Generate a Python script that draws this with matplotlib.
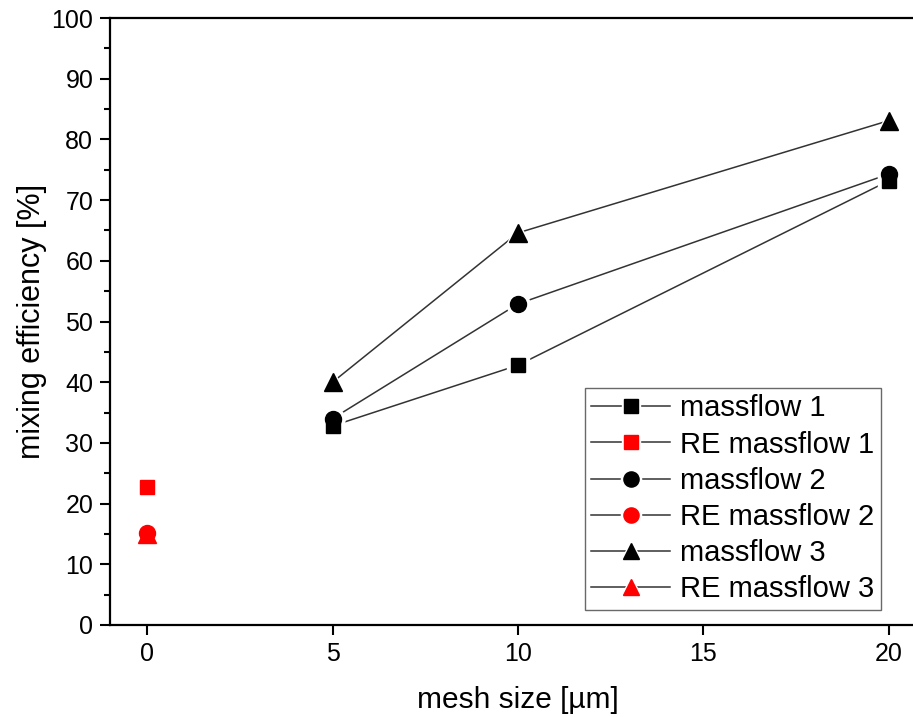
import matplotlib
matplotlib.use("Agg")
import matplotlib.pyplot as plt
from matplotlib.lines import Line2D
from matplotlib.legend_handler import HandlerTuple
from matplotlib.ticker import MultipleLocator

plt.rcParams['font.family'] = ['Liberation Sans', 'DejaVu Sans']

mesh = [5, 10, 20]
mf1 = [32.8, 42.8, 73.2]
mf2 = [34.0, 52.9, 74.3]
mf3 = [40.0, 64.6, 83.1]
re_x = [0]
re_mf1 = [22.7]
re_mf2 = [15.2]
re_mf3 = [15.0]

W, H = 913, 717
fig = plt.figure(figsize=(W/100, H/100), dpi=100)
ax = fig.add_axes([110/W, 1-625/H, 816/W, 607/H])

lc = '#333333'
series = [
    (mesh, mf1, 's', 'black', 'massflow 1', 10.5),
    (re_x, re_mf1, 's', 'red', 'RE massflow 1', 10.5),
    (mesh, mf2, 'o', 'black', 'massflow 2', 11.5),
    (re_x, re_mf2, 'o', 'red', 'RE massflow 2', 11.5),
    (mesh, mf3, '^', 'black', 'massflow 3', 12.5),
    (re_x, re_mf3, '^', 'red', 'RE massflow 3', 12.5),
]
handles = []
labels = []
for x, y, m, c, lab, ms in series:
    ax.plot(x, y, '-', color=lc, lw=1.1, zorder=2)
    ax.plot(x, y, m, color='white', ms=ms + 5, mec='white', zorder=3)
    ax.plot(x, y, m, color=c, ms=ms, mec=c, zorder=4)
    h_line = Line2D([], [], color=lc, lw=1.1)
    h_gap = Line2D([], [], ls='none', marker=m, color='white', ms=ms + 3, mec='white')
    h_mark = Line2D([], [], ls='none', marker=m, color=c, ms=ms * 0.95, mec=c)
    handles.append((h_line, h_gap, h_mark))
    labels.append(lab)

ax.set_xlim(-1, 21)
ax.set_ylim(0, 100)
ax.set_xticks([0, 5, 10, 15, 20])
ax.yaxis.set_major_locator(MultipleLocator(10))
ax.yaxis.set_minor_locator(MultipleLocator(5))
ax.tick_params(axis='both', which='major', direction='out', length=7, width=1.5,
               labelsize=18, pad=5)
ax.tick_params(axis='y', which='minor', direction='out', length=4, width=1.5)
for s in ax.spines.values():
    s.set_linewidth(1.6)
ax.spines['right'].set_visible(False)

ax.set_xlabel('mesh size [µm]', fontsize=21.5, labelpad=15)
ax.set_ylabel('mixing efficiency [%]', fontsize=22, labelpad=3)

leg = ax.legend(handles, labels, handler_map={tuple: HandlerTuple(ndivide=1)},
                loc='upper left', bbox_to_anchor=(585/W, 1-388/H),
                bbox_transform=fig.transFigure, borderaxespad=0,
                fontsize=21, frameon=True, fancybox=False, handlelength=2.7,
                handletextpad=0.35, labelspacing=0.28, borderpad=0.22)
leg.get_frame().set_edgecolor('#444444')
leg.get_frame().set_linewidth(1.0)

fig.savefig('out.png', dpi=100)
